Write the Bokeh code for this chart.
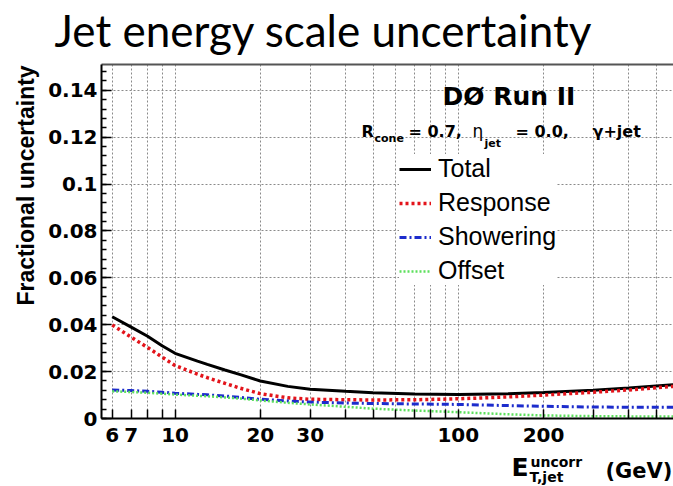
import math
from bokeh.plotting import figure
from bokeh.layouts import column, row
from bokeh.models import (Label, Legend, LegendItem, FixedTicker, CustomJSTickFormatter,
                          LogAxis, Range1d)
from bokeh.embed import file_html
from bokeh.resources import INLINE

# ---------------- data ----------------
energy    = [6, 7, 8, 9, 10, 12, 13, 15, 17, 20, 25, 30, 40, 50, 70, 100, 150, 200, 300, 400, 575]
total     = [0.0434, 0.0390, 0.0351, 0.0310, 0.0278, 0.0245, 0.0231, 0.0207, 0.0187, 0.0160,
             0.0137, 0.0125, 0.0116, 0.0110, 0.0104, 0.0102, 0.0106, 0.0111, 0.0121, 0.0130, 0.0144]
response  = [0.0399, 0.0347, 0.0303, 0.0262, 0.0226, 0.0189, 0.0174, 0.0150, 0.0129, 0.0106,
             0.0088, 0.0082, 0.0080, 0.0079, 0.0080, 0.0084, 0.0092, 0.0100, 0.0112, 0.0122, 0.0137]
showering = [0.0122, 0.0119, 0.0116, 0.0112, 0.0108, 0.0103, 0.0101, 0.0096, 0.0090, 0.0082,
             0.0075, 0.0070, 0.0066, 0.0064, 0.0062, 0.0060, 0.0055, 0.0052, 0.0049, 0.0048, 0.0048]
offset    = [0.0116, 0.0113, 0.0110, 0.0106, 0.0102, 0.0097, 0.0095, 0.0090, 0.0085, 0.0077,
             0.0067, 0.0060, 0.0050, 0.0042, 0.0034, 0.0027, 0.0018, 0.0013, 0.0010, 0.0009, 0.0008]

series_names = ["Total", "Response", "Showering", "Offset"]

xtick_vals   = [6, 7, 10, 20, 30, 100, 200]
xtick_labels = ["6", "7", "10", "20", "30", "100", "200"]
xtick_minor  = [8, 9, 40, 50, 60, 70, 80, 90, 300, 400, 500]
ytick_vals   = [0.0, 0.02, 0.04, 0.06, 0.08, 0.10, 0.12, 0.14]
ytick_labels = ["0", "0.02", "0.04", "0.06", "0.08", "0.1", "0.12", "0.14"]

W, H = 673, 486
TOP_H = 58          # title strip
BOT_H = 36          # x-title strip
YLAB_W = 45         # y-title strip
MAIN_H = H - TOP_H - BOT_H
FL, FB, FT = 100, 418, 64   # frame left / bottom / top in page pixels
BSHIFT = 0.31       # rendered baseline sits this many font sizes below the requested one


def strip(width, height):
    f = figure(width=width, height=height, x_range=Range1d(0, width), y_range=Range1d(0, height),
               x_axis_location=None, y_axis_location=None, output_backend="svg",
               toolbar_location=None, min_border=0, title=None)
    f.grid.visible = False
    f.outline_line_color = None
    f.background_fill_color = "white"
    f.border_fill_color = "white"
    return f


def txt(f, text, x, y, size, font="DejaVu Sans", style="bold", angle=0.0):
    f.add_layout(Label(x=x, y=y, text=text, text_font=font, text_font_size=f"{size}px",
                       text_font_style=style, angle=angle, text_align="left",
                       text_baseline="alphabetic", text_color="black"))

# ---------------- main plot ----------------
p = figure(width=W - YLAB_W, height=MAIN_H, x_axis_type="log",
           x_range=Range1d(5.5, 575), y_range=Range1d(0, 0.151),
           output_backend="svg", toolbar_location=None, title=None,
           min_border_left=FL - YLAB_W, min_border_right=0,
           min_border_top=FT - TOP_H, min_border_bottom=TOP_H + MAIN_H - FB)
p.background_fill_color = "white"
p.border_fill_color = "white"
p.outline_line_color = None

xticker = FixedTicker(ticks=xtick_vals, minor_ticks=xtick_minor)
yminor = [round(i * 0.004, 4) for i in range(0, 38)]
yticker = FixedTicker(ticks=ytick_vals, minor_ticks=yminor)

fmt_code = """
for (let i = 0; i < vals.length; i++) {
  if (Math.abs(vals[i] - tick) <= 1e-9 * Math.max(1, Math.abs(tick))) return labs[i];
}
return String(tick);
"""
xfmt = CustomJSTickFormatter(args=dict(vals=xtick_vals, labs=xtick_labels), code=fmt_code)
yfmt = CustomJSTickFormatter(args=dict(vals=ytick_vals, labs=ytick_labels), code=fmt_code)

for ax, tk, fm in ((p.xaxis[0], xticker, xfmt), (p.yaxis[0], yticker, yfmt)):
    ax.ticker = tk
    ax.formatter = fm
    ax.axis_line_color = "black"
    ax.axis_line_width = 2
    ax.major_tick_line_color = "black"
    ax.major_tick_line_width = 1.5
    ax.minor_tick_line_color = "black"
    ax.minor_tick_line_width = 1.5
    ax.major_tick_out = 0
    ax.minor_tick_out = 0
    ax.major_label_text_font = "DejaVu Sans"
    ax.major_label_text_font_style = "bold"
    ax.major_label_text_font_size = "20px"
    ax.major_label_text_color = "black"

p.xaxis.major_tick_in = 9
p.xaxis.minor_tick_in = 9
p.xaxis.major_label_standoff = 9
p.yaxis.major_tick_in = 10
p.yaxis.minor_tick_in = 5
p.yaxis.major_label_standoff = 4

top_axis = LogAxis(ticker=FixedTicker(ticks=[], minor_ticks=[]),
                   axis_line_color="#555555", axis_line_width=2,
                   major_tick_line_color=None, minor_tick_line_color=None,
                   major_tick_out=0, minor_tick_out=0, major_label_standoff=0)
p.add_layout(top_axis, "above")

for g in (p.xgrid[0], p.ygrid[0]):
    g.grid_line_color = "#8a8a8a"
    g.grid_line_dash = "2 2"
    g.grid_line_width = 1
p.xgrid.ticker = xticker
p.ygrid.ticker = yticker
p.xgrid.minor_grid_line_color = "#8a8a8a"
p.xgrid.minor_grid_line_dash = "2 2"
p.xgrid.minor_grid_line_width = 1

r_total = p.line(energy, total, line_color="black", line_width=3)
r_resp = p.line(energy, response, line_color="#e3141b", line_width=3.5, line_dash="3 3")
r_show = p.line(energy, showering, line_color="#1c2ccc", line_width=3, line_dash="7 3 2 3")
r_off = p.line(energy, offset, line_color="#5ce05c", line_width=2.5, line_dash="2 2")

legend = Legend(items=[LegendItem(label=n, renderers=[r])
                       for n, r in zip(series_names, [r_total, r_resp, r_show, r_off])],
                location=(298, 133), orientation="vertical")
legend.label_text_font = "Liberation Sans"
legend.label_text_font_size = "25px"
legend.label_text_color = "black"
legend.label_height = 28
legend.glyph_height = 20
legend.glyph_width = 32
legend.spacing = 5
legend.padding = 8
legend.margin = 0
legend.label_standoff = 7
legend.border_line_color = None
legend.background_fill_color = "white"
legend.background_fill_alpha = 1.0
p.add_layout(legend)


def plab(text, cx, cy, size, style="bold"):
    # text inside the plot frame; cx, cy = wanted left / baseline in page pixels
    p.add_layout(Label(x=cx - FL, y=FB - cy + BSHIFT * size, x_units="screen", y_units="screen",
                       text=text, text_font="DejaVu Sans", text_font_size=f"{size}px",
                       text_font_style=style, text_align="left",
                       text_baseline="alphabetic", text_color="black"))

plab("DØ Run II", 441, 104, 25)
plab("R", 360, 136, 16)
plab("cone", 373, 141, 11)
plab("= 0.7,", 407, 136, 16)
plab("η", 471, 136, 17, style="normal")
plab("jet", 483, 146, 11)
plab("= 0.0,", 514, 136, 16)
plab("γ+jet", 591, 136, 16)

# ---------------- strips with the outer texts ----------------
f_title = strip(W, TOP_H)
txt(f_title, "Jet energy scale uncertainty", 54, TOP_H - 43 + BSHIFT * 44, 44,
    font="Lato", style="normal")

f_ylab = strip(YLAB_W, MAIN_H)
txt(f_ylab, "Fractional uncertainty", 25, TOP_H + MAIN_H - 305 - 20, 23,
    font="Liberation Sans", angle=math.pi / 2)

f_xt = strip(W, BOT_H)
base = TOP_H + MAIN_H + BOT_H
txt(f_xt, "E", 511, base - 475 + BSHIFT * 25, 25)
txt(f_xt, "uncorr", 530, base - 466 + BSHIFT * 14, 14)
txt(f_xt, "T,jet", 529, base - 481 + BSHIFT * 14, 14)
txt(f_xt, "(GeV)", 605, base - 477 + BSHIFT * 21, 21)

layout = column(f_title, row(f_ylab, p, spacing=0), f_xt, spacing=0)
open("out.html", "w").write(file_html(layout, INLINE))
